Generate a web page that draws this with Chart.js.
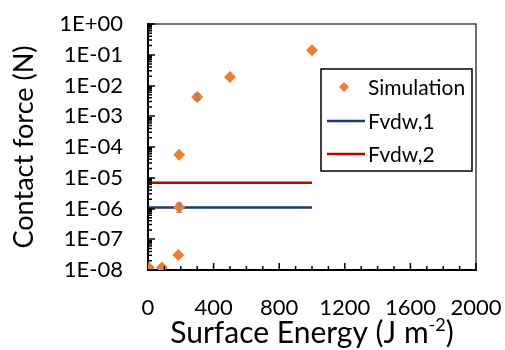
<!DOCTYPE html>
<html lang="en">
<head>
    <meta charset="UTF-8" />
    <title>Contact force vs surface energy</title>
    <script src="https://cdn.jsdelivr.net/npm/chart.js"></script>
    <style>
        body { margin: 0; background: #fff; }
    </style>
</head>
<body>
    <canvas id="chart" width="505" height="350"></canvas>

    <script>
        // values
        const simEnergy = [5, 85, 185, 190, 190, 300, 500, 1000];
        const simForce = [1.2e-8, 1.2e-8, 3.1e-8, 1.1e-6, 5.6e-5, 4.2e-3, 1.9e-2, 1.4e-1];
        const simErrLow = [0, 0, 0, 0.75e-6, 0, 3.4e-3, 0, 0];
        const simErrHigh = [0, 0, 0, 1.5e-6, 0, 5.2e-3, 0, 0];
        const fvdwEnergy = [0, 1000];
        const fvdw1 = [1.08e-6, 1.08e-6];
        const fvdw2 = [6.9e-6, 6.9e-6];
        const xTicks = [0, 400, 800, 1200, 1600, 2000];
        const yDecades = [-8, -7, -6, -5, -4, -3, -2, -1, 0];
        const xTitle = ['Surface Energy (J m', '-2', ')'];
        const yTitle = 'Contact force (N)';

        const FONT = 'Lato, "Open Sans", sans-serif';

        function yLabel(d) {
            if (d === 0) return '1E+00';
            return '1E-' + String(-d).padStart(2, '0');
        }

        const toPts = (xs, ys) => xs.map((x, i) => ({ x: x, y: ys[i] }));

        // frame, inside tick marks, error bars, x title, legend
        const extras = {
            id: 'extras',
            afterDatasetsDraw(chart) {
                const ctx = chart.ctx;
                const xs = chart.scales.x, ys = chart.scales.y;
                ctx.save();

                // error bars
                ctx.strokeStyle = '#7f7f7f';
                ctx.lineWidth = 1;
                simEnergy.forEach((e, i) => {
                    if (!simErrLow[i]) return;
                    const px = xs.getPixelForValue(e);
                    const y1 = ys.getPixelForValue(simErrLow[i]);
                    const y2 = ys.getPixelForValue(simErrHigh[i]);
                    ctx.beginPath();
                    ctx.moveTo(px, y1); ctx.lineTo(px, y2);
                    ctx.moveTo(px - 3, y1); ctx.lineTo(px + 3, y1);
                    ctx.moveTo(px - 3, y2); ctx.lineTo(px + 3, y2);
                    ctx.stroke();
                });
                ctx.restore();
            },
            afterDraw(chart) {
                const ctx = chart.ctx;
                const a = chart.chartArea;
                const xs = chart.scales.x, ys = chart.scales.y;
                ctx.save();

                // top / right frame
                ctx.strokeStyle = '#404040';
                ctx.lineWidth = 1.5;
                ctx.beginPath();
                ctx.moveTo(a.left, a.top); ctx.lineTo(a.right, a.top); ctx.lineTo(a.right, a.bottom);
                ctx.stroke();

                // tick marks pointing inward
                ctx.strokeStyle = '#000';
                ctx.lineWidth = 1.5;
                ctx.beginPath();
                yDecades.forEach(d => {
                    const base = Math.pow(10, d);
                    const py = Math.round(ys.getPixelForValue(base));
                    ctx.moveTo(a.left, py); ctx.lineTo(a.left + 7, py);
                    if (d < 0) {
                        for (let k = 2; k <= 9; k++) {
                            const p = ys.getPixelForValue(k * base);
                            ctx.moveTo(a.left, p); ctx.lineTo(a.left + 4, p);
                        }
                    }
                });
                for (let v = 100; v <= 2000; v += 100) {
                    const px = xs.getPixelForValue(v);
                    const len = v % 400 === 0 ? 7 : 4;
                    ctx.moveTo(px, a.bottom); ctx.lineTo(px, a.bottom - len);
                }
                ctx.stroke();

                // x axis title with superscript
                ctx.fillStyle = '#000';
                ctx.textBaseline = 'alphabetic';
                ctx.textAlign = 'left';
                const big = '30px ' + FONT, small = '18px ' + FONT;
                ctx.font = big;
                const w0 = ctx.measureText(xTitle[0]).width;
                const w2 = ctx.measureText(xTitle[2]).width;
                ctx.font = small;
                const w1 = ctx.measureText(xTitle[1]).width;
                let tx = (a.left + a.right) / 2 - (w0 + w1 + w2) / 2;
                const base = 343;
                ctx.font = big;
                ctx.fillText(xTitle[0], tx, base);
                tx += w0;
                ctx.font = small;
                ctx.fillText(xTitle[1], tx, base - 12);
                tx += w1;
                ctx.font = big;
                ctx.fillText(xTitle[2], tx, base);

                // legend box
                const lx = 321, ly = 69, lw = 151, lh = 102;
                ctx.fillStyle = '#fff';
                ctx.fillRect(lx, ly, lw, lh);
                ctx.strokeStyle = '#000';
                ctx.lineWidth = 1.5;
                ctx.strokeRect(lx, ly, lw, lh);
                ctx.font = '21px ' + FONT;
                ctx.textBaseline = 'middle';
                const rows = [87, 121, 154];
                chart.data.datasets.forEach((ds, i) => {
                    const ry = rows[i];
                    if (ds.showLine === false) {
                        ctx.fillStyle = ds.backgroundColor;
                        ctx.beginPath();
                        ctx.moveTo(344, ry - 5); ctx.lineTo(349, ry);
                        ctx.lineTo(344, ry + 5); ctx.lineTo(339, ry);
                        ctx.closePath();
                        ctx.fill();
                    } else {
                        ctx.strokeStyle = ds.borderColor;
                        ctx.lineWidth = 2.5;
                        ctx.beginPath();
                        ctx.moveTo(327, ry); ctx.lineTo(365, ry);
                        ctx.stroke();
                    }
                    ctx.fillStyle = '#000';
                    ctx.fillText(ds.label, 368, ry + 1);
                });
                ctx.restore();
            }
        };

        new Chart(document.getElementById('chart'), {
            type: 'scatter',
            data: {
                datasets: [
                    {
                        label: 'Simulation',
                        data: toPts(simEnergy, simForce),
                        showLine: false,
                        pointStyle: 'rectRot',
                        pointRadius: 6,
                        backgroundColor: '#ED7D31',
                        borderColor: '#ED7D31',
                        borderWidth: 0,
                        order: 0
                    },
                    {
                        label: 'Fvdw,1',
                        data: toPts(fvdwEnergy, fvdw1),
                        showLine: true,
                        pointRadius: 0,
                        borderColor: '#1F3864',
                        borderWidth: 2.5,
                        order: 1
                    },
                    {
                        label: 'Fvdw,2',
                        data: toPts(fvdwEnergy, fvdw2),
                        showLine: true,
                        pointRadius: 0,
                        borderColor: '#C00000',
                        borderWidth: 2.5,
                        order: 1
                    }
                ]
            },
            options: {
                responsive: false,
                animation: false,
                layout: { padding: { top: 24, right: 29, left: 0, bottom: 0 } },
                plugins: {
                    legend: { display: false },
                    tooltip: { enabled: false }
                },
                scales: {
                    x: {
                        type: 'linear',
                        min: 0,
                        max: 2000,
                        afterBuildTicks: s => { s.ticks = xTicks.map(v => ({ value: v })); },
                        afterFit: s => { s.height = 80; s.paddingLeft = 0; s.paddingRight = 0; },
                        grid: { display: false, drawTicks: false },
                        border: { display: true, color: '#000', width: 2 },
                        ticks: {
                            padding: 25,
                            maxRotation: 0,
                            color: '#000',
                            font: { family: FONT, size: 22 },
                            callback: v => String(v)
                        }
                    },
                    y: {
                        type: 'logarithmic',
                        min: 1e-8,
                        max: 1,
                        afterBuildTicks: s => { s.ticks = yDecades.map(d => ({ value: Math.pow(10, d) })); },
                        afterFit: s => { s.width = 148; s.paddingTop = 0; s.paddingBottom = 0; },
                        grid: { display: false, drawTicks: false },
                        border: { display: true, color: '#000', width: 2 },
                        ticks: {
                            padding: 25,
                            color: '#000',
                            font: { family: FONT, size: 22 },
                            callback: v => yLabel(Math.round(Math.log10(v)))
                        },
                        title: {
                            display: true,
                            text: yTitle,
                            color: '#000',
                            font: { family: FONT, size: 27 },
                            padding: { top: 8, bottom: 0 }
                        }
                    }
                }
            },
            plugins: [extras]
        });
    </script>
</body>
</html>
